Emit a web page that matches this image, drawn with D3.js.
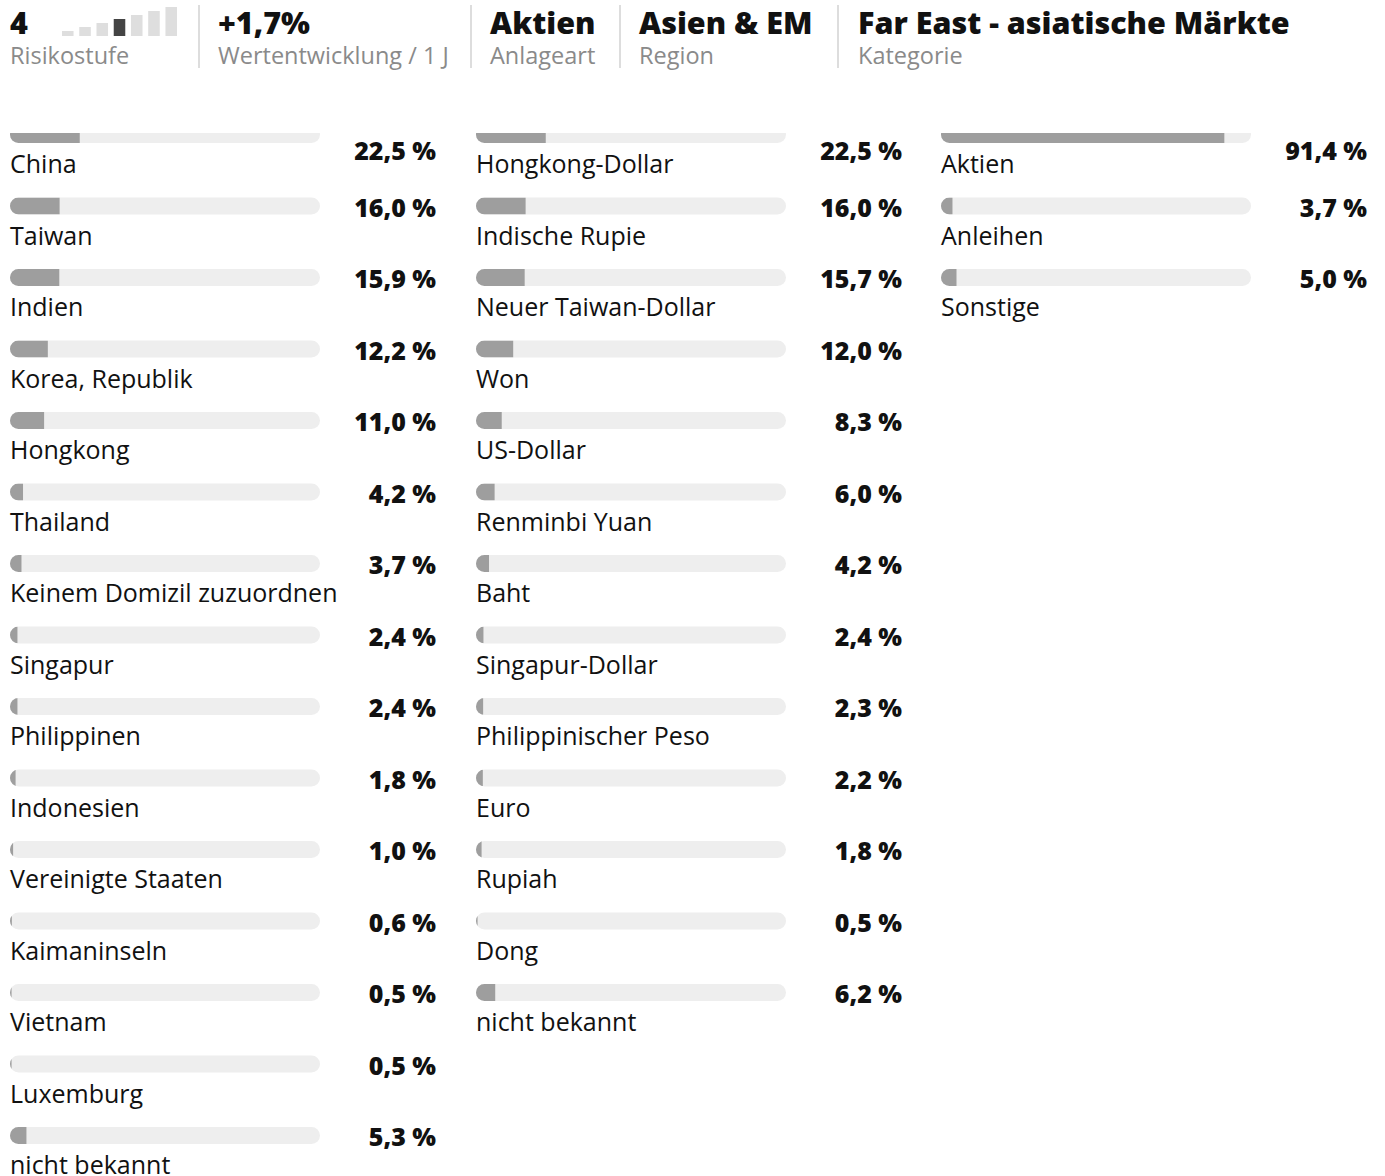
<!DOCTYPE html>
<html>
<head>
<meta charset="utf-8">
<script src="https://cdn.jsdelivr.net/npm/d3@7"></script>
<style>
  body { margin: 0; background: #fff; }
  svg { display: block; font-family: "Open Sans", "Noto Sans", sans-serif; }
</style>
</head>
<body>
<svg id="chart"></svg>
<script>
// Länder
const countries = ['China', 'Taiwan', 'Indien', 'Korea, Republik', 'Hongkong', 'Thailand',
  'Keinem Domizil zuzuordnen', 'Singapur', 'Philippinen', 'Indonesien', 'Vereinigte Staaten',
  'Kaimaninseln', 'Vietnam', 'Luxemburg', 'nicht bekannt'];
const countryValues = [22.5, 16.0, 15.9, 12.2, 11.0, 4.2, 3.7, 2.4, 2.4, 1.8, 1.0, 0.6, 0.5, 0.5, 5.3];

// Währungen
const currencies = ['Hongkong-Dollar', 'Indische Rupie', 'Neuer Taiwan-Dollar', 'Won', 'US-Dollar',
  'Renminbi Yuan', 'Baht', 'Singapur-Dollar', 'Philippinischer Peso', 'Euro', 'Rupiah', 'Dong', 'nicht bekannt'];
const currencyValues = [22.5, 16.0, 15.7, 12.0, 8.3, 6.0, 4.2, 2.4, 2.3, 2.2, 1.8, 0.5, 6.2];

// Anlageklassen
const assetClasses = ['Aktien', 'Anleihen', 'Sonstige'];
const assetValues = [91.4, 3.7, 5.0];

// Kopfzeile
const headerValues = ['4', '+1,7%', 'Aktien', 'Asien & EM', 'Far East - asiatische Märkte'];
const headerLabels = ['Risikostufe', 'Wertentwicklung / 1 J', 'Anlageart', 'Region', 'Kategorie'];
const riskLevels = [1, 2, 3, 4, 5, 6, 7];
const riskLevel = 4;

const width = 1385, height = 1176;
const svg = d3.select('#chart').attr('width', width).attr('height', height);

// --- header
const headerX = [10, 218, 490, 639, 858];
const sepX = [199, 471, 620, 838];

svg.selectAll('line.sep').data(sepX).enter().append('line')
  .attr('x1', d => d).attr('x2', d => d)
  .attr('y1', 5).attr('y2', 68)
  .attr('stroke', '#dddddd').attr('stroke-width', 2);

svg.selectAll('text.hval').data(headerValues).enter().append('text')
  .attr('x', (d, i) => headerX[i]).attr('y', 34)
  .attr('font-size', 30.5).attr('font-weight', 800).attr('fill', '#111')
  .text(d => d);

svg.selectAll('text.hlab').data(headerLabels).enter().append('text')
  .attr('x', (d, i) => headerX[i]).attr('y', 64)
  .attr('font-size', 23.5).attr('fill', '#8a8a8a')
  .text(d => d);

const rx = d3.scaleBand().domain(riskLevels).range([62, 177]).paddingInner(0.33);
const rh = d3.scaleLinear().domain([1, 7]).range([5, 29]);
svg.selectAll('rect.risk').data(riskLevels).enter().append('rect')
  .attr('x', d => rx(d)).attr('width', rx.bandwidth())
  .attr('y', d => 36 - rh(d)).attr('height', d => rh(d))
  .attr('fill', d => d === riskLevel ? '#444444' : '#dedede');

// --- bars
const trackW = 310, barH = 17, clipTop = 133;
const defs = svg.append('defs');
defs.append('clipPath').attr('id', 'area')
  .append('rect').attr('x', 0).attr('y', clipTop).attr('width', width).attr('height', height - clipTop);
defs.append('clipPath').attr('id', 'track')
  .append('rect').attr('width', trackW).attr('height', barH).attr('rx', barH / 2);

const area = svg.append('g').attr('clip-path', 'url(#area)');

const x = d3.scaleLinear().domain([0, 100]).range([0, trackW]);
const rowStep = 71.5;
const y = d3.scaleLinear().domain([0, 1]).range([126, 126 + rowStep]);

const columns = [
  { left: 10, names: countries, values: countryValues },
  { left: 476, names: currencies, values: currencyValues },
  { left: 941, names: assetClasses, values: assetValues }
];

columns.forEach(col => {
  const rows = col.names.map((n, i) => ({ name: n, value: col.values[i], i: i }));

  const g = area.append('g').attr('transform', 'translate(' + col.left + ',0)');
  const row = g.selectAll('g.row').data(rows).enter().append('g')
    .attr('transform', d => 'translate(0,' + y(d.i) + ')');

  row.append('rect')
    .attr('width', trackW).attr('height', barH).attr('rx', barH / 2)
    .attr('fill', '#eeeeee');

  row.append('rect')
    .attr('width', d => x(d.value)).attr('height', barH)
    .attr('fill', '#9e9e9e')
    .attr('clip-path', 'url(#track)');

  // value stays inside the visible area when the row is scrolled
  row.append('text')
    .attr('x', 426)
    .attr('y', d => Math.max(barH + 2, clipTop + 27 - y(d.i)))
    .attr('text-anchor', 'end')
    .attr('font-size', 25).attr('font-weight', 800).attr('fill', '#111')
    .text(d => d3.format('.1f')(d.value).replace('.', ',') + ' %');

  row.append('text')
    .attr('x', 0).attr('y', barH + 30)
    .attr('font-size', 25).attr('fill', '#111')
    .text(d => d.name);
});
</script>
</body>
</html>
